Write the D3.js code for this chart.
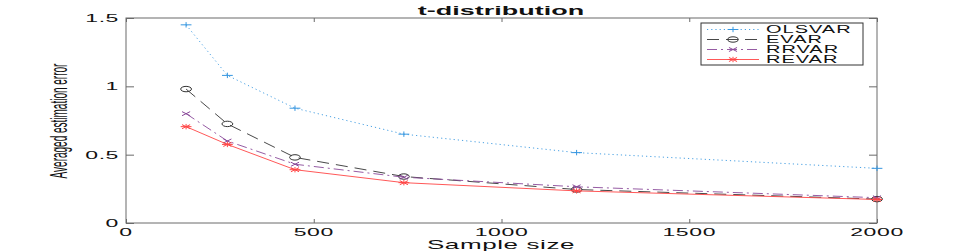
<!doctype html>
<html>
<head>
    <meta charset="utf-8">
    <title>t-distribution</title>
    <script src="https://d3js.org/d3.v7.min.js"></script>
    <style type="text/css">
        html, body { margin: 0; background: #fff; }
        svg { display: block; }
        text { font-family: "Liberation Sans", Arial, sans-serif; fill: #111; }
    </style>
</head>
<body>
<svg id="chart" width="969" height="251"></svg>
<script type="text/javascript">
    // data
    var sampleSize = [160, 270, 450, 740, 1200, 2000];
    var olsvar = [1.45, 1.08, 0.84, 0.65, 0.515, 0.40];
    var evar   = [0.98, 0.725, 0.48, 0.34, 0.245, 0.175];
    var rrvar  = [0.80, 0.60, 0.43, 0.335, 0.265, 0.185];
    var revar  = [0.705, 0.575, 0.39, 0.295, 0.235, 0.172];
    var xTicks = [0, 500, 1000, 1500, 2000];
    var yTicks = [0, 0.5, 1, 1.5];
    var seriesNames = ["OLSVAR", "EVAR", "RRVAR", "REVAR"];

    var series = [
        {name: seriesNames[0], values: olsvar, color: "#3596e0", dash: "1.2,3", marker: "plus"},
        {name: seriesNames[1], values: evar, color: "#333", dash: "12,7", marker: "circle"},
        {name: seriesNames[2], values: rrvar, color: "#8a4a9a", dash: "10,4,2,4", marker: "cross"},
        {name: seriesNames[3], values: revar, color: "#ff4545", dash: null, marker: "star"}
    ];

    var svg = d3.select("#chart");
    var plotL = 126, plotR = 877, plotT = 18, plotB = 223;
    var sx = 2; // the whole figure is stretched horizontally

    var x = d3.scaleLinear().domain([0, 2000]).range([plotL, plotR]);
    var y = d3.scaleLinear().domain([0, 1.5]).range([plotB, plotT]);

    // axes box
    var axisColor = "#6a6a6a";
    svg.append("rect")
        .attr("x", plotL).attr("y", plotT)
        .attr("width", plotR - plotL).attr("height", plotB - plotT)
        .attr("fill", "none").attr("stroke", axisColor).attr("stroke-width", 1);

    // ticks (inward, both sides)
    var gx = svg.append("g").attr("transform", "translate(0," + plotB + ")")
        .call(d3.axisBottom(x).tickValues(xTicks).tickSizeInner(-4).tickSizeOuter(0).tickFormat(""));
    var gx2 = svg.append("g").attr("transform", "translate(0," + plotT + ")")
        .call(d3.axisTop(x).tickValues(xTicks).tickSizeInner(-4).tickSizeOuter(0).tickFormat(""));
    var gy = svg.append("g").attr("transform", "translate(" + plotL + ",0)")
        .call(d3.axisLeft(y).tickValues(yTicks).tickSizeInner(-8).tickSizeOuter(0).tickFormat(""));
    var gy2 = svg.append("g").attr("transform", "translate(" + plotR + ",0)")
        .call(d3.axisRight(y).tickValues(yTicks).tickSizeInner(-8).tickSizeOuter(0).tickFormat(""));
    [gx, gx2, gy, gy2].forEach(function(g) {
        g.select(".domain").remove();
        g.selectAll("line").attr("stroke", axisColor);
    });

    // tick labels, stretched like the source
    xTicks.forEach(function(v) {
        svg.append("text")
            .attr("transform", "translate(" + x(v) + "," + (plotB + 13) + ") scale(" + sx + ",1)")
            .attr("text-anchor", "middle")
            .style("font-size", "11.5px")
            .style("letter-spacing", "0.3px")
            .text(d3.format("")(v));
    });
    yTicks.forEach(function(v) {
        svg.append("text")
            .attr("transform", "translate(" + (plotL - 7) + "," + (y(v) + 4) + ") scale(" + sx + ",1)")
            .attr("text-anchor", "end")
            .style("font-size", "11.5px")
            .style("letter-spacing", "0.3px")
            .text(d3.format("")(v));
    });

    // title and axis labels
    svg.append("text")
        .attr("transform", "translate(" + 501 + ",15) scale(" + sx + ",1)")
        .attr("text-anchor", "middle")
        .style("font-size", "13.5px").style("font-weight", "bold")
        .text("t-distribution");
    svg.append("text")
        .attr("transform", "translate(" + 501 + ",249) scale(" + sx + ",1)")
        .attr("text-anchor", "middle")
        .style("font-size", "13px")
        .style("letter-spacing", "0.3px")
        .text("Sample size");
    svg.append("text")
        .attr("transform", "translate(" + 67 + ",121) scale(2.3,1) rotate(-90)")
        .attr("text-anchor", "middle")
        .style("font-size", "10px")
        .text("Averaged estimation error");

    // markers drawn in a squashed frame so they look stretched like the source
    function drawMarker(g, type, color, cx, cy) {
        var m = g.append("g").attr("transform", "translate(" + cx + "," + cy + ") scale(" + sx + ",1)");
        var r = 2.7;
        if (type === "plus" || type === "star") {
            m.append("line").attr("x1", -r).attr("x2", r).attr("y1", 0).attr("y2", 0);
            m.append("line").attr("x1", 0).attr("x2", 0).attr("y1", -r).attr("y2", r);
        }
        if (type === "cross" || type === "star") {
            m.append("line").attr("x1", -r * 0.75).attr("x2", r * 0.75).attr("y1", -r * 0.75).attr("y2", r * 0.75);
            m.append("line").attr("x1", -r * 0.75).attr("x2", r * 0.75).attr("y1", r * 0.75).attr("y2", -r * 0.75);
        }
        if (type === "circle") {
            m.append("circle").attr("r", r).attr("fill", "none");
        }
        m.selectAll("line, circle").attr("stroke", color)
            .attr("stroke-width", 1).attr("vector-effect", "non-scaling-stroke");
    }

    var line = d3.line()
        .x(function(d, i) { return x(sampleSize[i]); })
        .y(function(d) { return y(d); });

    series.forEach(function(s) {
        var g = svg.append("g");
        g.append("path")
            .datum(s.values)
            .attr("d", line)
            .attr("fill", "none")
            .attr("stroke", s.color)
            .attr("stroke-width", 0.9)
            .attr("stroke-dasharray", s.dash);
        s.values.forEach(function(v, i) {
            drawMarker(g, s.marker, s.color, x(sampleSize[i]), y(v));
        });
    });

    // legend
    var lg = svg.append("g");
    lg.append("rect")
        .attr("x", 701).attr("y", 23).attr("width", 162).attr("height", 42)
        .attr("fill", "#fff").attr("stroke", "#333").attr("stroke-width", 1);
    series.forEach(function(s, i) {
        var ly = 29.5 + i * 10;
        lg.append("line")
            .attr("x1", 707).attr("x2", 759).attr("y1", ly).attr("y2", ly)
            .attr("stroke", s.color).attr("stroke-width", 0.9)
            .attr("stroke-dasharray", s.dash);
        drawMarker(lg, s.marker, s.color, 733, ly);
        lg.append("text")
            .attr("transform", "translate(766," + (ly + 3.8) + ") scale(" + sx + ",1)")
            .style("font-size", "10px")
            .style("letter-spacing", "0.5px")
            .text(s.name);
    });
</script>
</body>
</html>
